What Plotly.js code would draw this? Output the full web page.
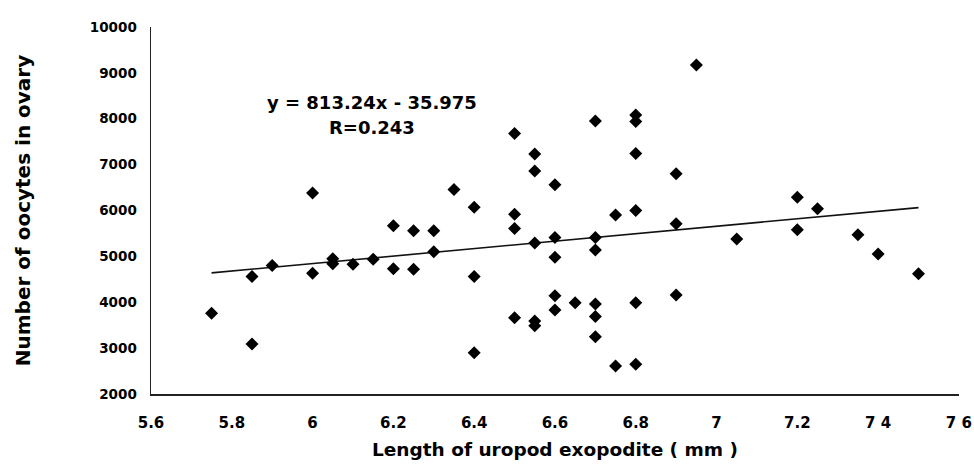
<!DOCTYPE html>
<html>
<head>
<meta charset="utf-8">
<script src="https://cdn.plot.ly/plotly-3.0.1.min.js"></script>
<style>
html,body{margin:0;padding:0;background:#fff;}
#chart{width:974px;height:464px;}
</style>
</head>
<body>
<div id="chart"></div>
<script>
// Length of uropod exopodite (mm)
const lengthMm = [
  5.75, 5.85, 5.85, 5.9, 6.0, 6.0, 6.05, 6.05, 6.1, 6.15,
  6.2, 6.2, 6.25, 6.25, 6.3, 6.3, 6.35, 6.4, 6.4, 6.4,
  6.5, 6.5, 6.5, 6.5, 6.55, 6.55, 6.55, 6.55, 6.55,
  6.6, 6.6, 6.6, 6.6, 6.6, 6.65,
  6.7, 6.7, 6.7, 6.7, 6.7, 6.7, 6.75, 6.75,
  6.8, 6.8, 6.8, 6.8, 6.8, 6.8,
  6.9, 6.9, 6.9, 6.95, 7.05, 7.2, 7.2, 7.25, 7.35, 7.4, 7.5
];
// Number of oocytes in ovary
const oocytes = [
  3760, 4560, 3090, 4800, 4630, 6380, 4950, 4840, 4830, 4940,
  5670, 4730, 5560, 4720, 5560, 5100, 6460, 6070, 4560, 2900,
  7680, 5920, 5610, 3660, 7230, 6860, 5290, 3590, 3490,
  6560, 5410, 4980, 4140, 3830, 3990,
  7950, 5410, 5140, 3960, 3690, 3250, 5900, 2610,
  8080, 7940, 7240, 6000, 3990, 2650,
  6800, 5710, 4160, 9170, 5380, 6290, 5580, 6040, 5470, 5050, 4620
];
// Regression line printed on the chart
const slope = [813.24];
const intercept = [-35.975];
const fitRange = [5.75, 7.5];
const equationText = ["y = 813.24x - 35.975", "R=0.243"];

const xTickVals = [5.6, 5.8, 6.0, 6.2, 6.4, 6.6, 6.8, 7.0, 7.2, 7.4, 7.6];
const xTickText = ["5.6", "5.8", "6", "6.2", "6.4", "6.6", "6.8", "7", "7.2", "7 4", "7 6"];
const yTickVals = [2000, 3000, 4000, 5000, 6000, 7000, 8000, 9000, 10000];
const yTickText = ["2000", "3000", "4000", "5000", "6000", "7000", "8000", "9000", "10000"];

const fitY = fitRange.map(x => slope[0] * x + intercept[0]);

const FONT = "DejaVu Sans, Arial, sans-serif";

const traces = [
  {
    type: "scatter", mode: "lines",
    x: fitRange, y: fitY,
    line: {color: "#111", width: 1.6},
    hoverinfo: "skip", showlegend: false
  },
  {
    type: "scatter", mode: "markers",
    x: lengthMm, y: oocytes,
    marker: {symbol: "diamond", size: 10, color: "#000"},
    showlegend: false
  }
];

const layout = {
  width: 974, height: 464,
  paper_bgcolor: "#fff", plot_bgcolor: "#fff",
  margin: {l: 151, r: 15, t: 27, b: 70},
  showlegend: false,
  font: {family: FONT, color: "#000"},
  xaxis: {
    range: [5.6, 7.6002],
    tickvals: xTickVals, ticktext: xTickText,
    showgrid: false, zeroline: false,
    showline: true, linecolor: "#222", linewidth: 1.5,
    ticks: "outside", ticklen: 14, tickcolor: "rgba(0,0,0,0)",
    ticklabeloverflow: "allow",
    tickfont: {family: FONT, size: 15, color: "#000", weight: "bold"},
    title: {text: "<b>Length of uropod exopodite ( mm )</b>",
            font: {family: FONT, size: 18.5, color: "#000"}, standoff: 12},
    automargin: false
  },
  yaxis: {
    range: [2000, 10000],
    tickvals: yTickVals, ticktext: yTickText,
    showgrid: false, zeroline: false,
    showline: true, linecolor: "#222", linewidth: 1.5,
    ticks: "outside", ticklen: 10, tickcolor: "rgba(0,0,0,0)",
    ticklabeloverflow: "allow",
    tickfont: {family: FONT, size: 13.5, color: "#000", weight: "bold"},
    title: {text: "<b>Number of oocytes in ovary</b>",
            font: {family: FONT, size: 20, color: "#000"}, standoff: 54},
    automargin: false
  },
  annotations: [
    {x: 6.148, y: 8361, xref: "x", yref: "y", text: "<b>" + equationText[0] + "</b>",
     showarrow: false, font: {family: FONT, size: 18, color: "#000"}},
    {x: 6.148, y: 7814, xref: "x", yref: "y", text: "<b>" + equationText[1] + "</b>",
     showarrow: false, font: {family: FONT, size: 18, color: "#000"}}
  ]
};

Plotly.newPlot("chart", traces, layout, {staticPlot: true, displayModeBar: false});
</script>
</body>
</html>
